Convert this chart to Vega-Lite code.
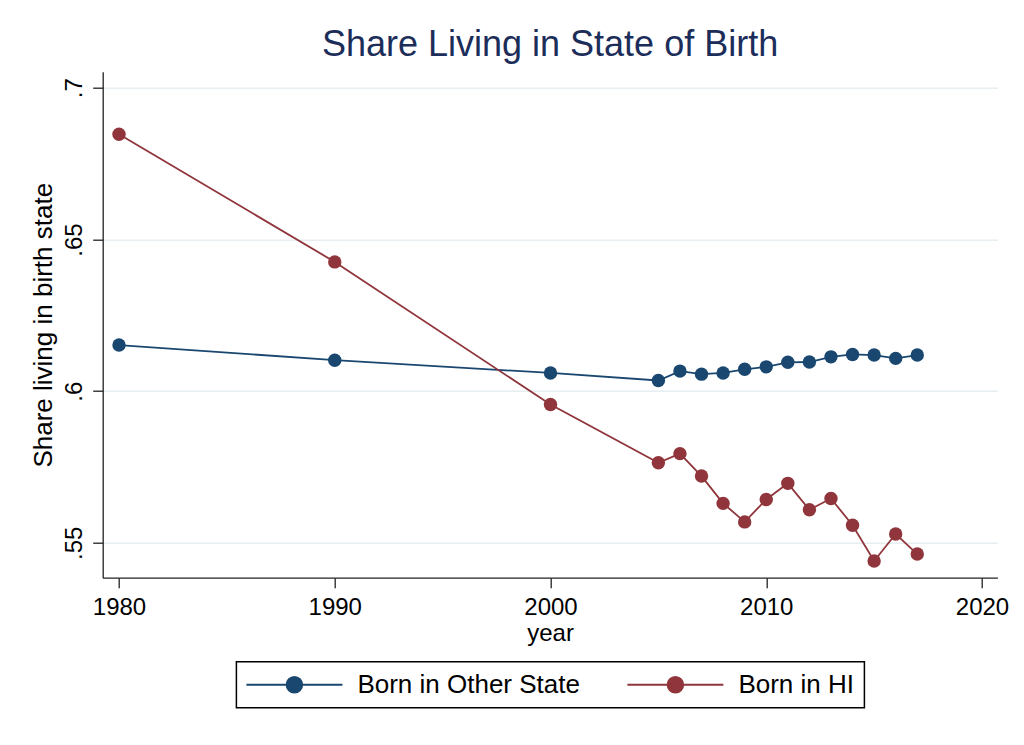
{
  "$schema": "https://vega.github.io/schema/vega-lite/v6.json",
  "autosize": {"type": "none"},
  "padding": {"left": 102.7, "top": 71.7, "right": 26.6, "bottom": 167.3},
  "width": 894.7,
  "height": 506,
  "background": "white",
  "config": {
    "font": "Liberation Sans",
    "view": {"stroke": null},
    "axis": {"labelFont": "Liberation Sans", "titleFont": "Liberation Sans", "labelColor": "black", "titleColor": "black", "titleFontWeight": "normal"}
  },
  "title": {"text": "Share Living in State of Birth", "font": "Liberation Sans", "fontSize": 36, "fontWeight": "normal", "color": "#1c2d5a", "anchor": "middle", "frame": "group", "baseline": "alphabetic", "offset": -20},
  "data": {"values": [
    {"year": 1980, "share": 0.6152, "group": "Born in Other State"},
    {"year": 1990, "share": 0.6102, "group": "Born in Other State"},
    {"year": 2000, "share": 0.6060, "group": "Born in Other State"},
    {"year": 2005, "share": 0.6035, "group": "Born in Other State"},
    {"year": 2006, "share": 0.6066, "group": "Born in Other State"},
    {"year": 2007, "share": 0.6056, "group": "Born in Other State"},
    {"year": 2008, "share": 0.6060, "group": "Born in Other State"},
    {"year": 2009, "share": 0.6072, "group": "Born in Other State"},
    {"year": 2010, "share": 0.6080, "group": "Born in Other State"},
    {"year": 2011, "share": 0.6095, "group": "Born in Other State"},
    {"year": 2012, "share": 0.6096, "group": "Born in Other State"},
    {"year": 2013, "share": 0.6113, "group": "Born in Other State"},
    {"year": 2014, "share": 0.6121, "group": "Born in Other State"},
    {"year": 2015, "share": 0.6119, "group": "Born in Other State"},
    {"year": 2016, "share": 0.6108, "group": "Born in Other State"},
    {"year": 2017, "share": 0.6119, "group": "Born in Other State"},
    {"year": 1980, "share": 0.6847, "group": "Born in HI"},
    {"year": 1990, "share": 0.6426, "group": "Born in HI"},
    {"year": 2000, "share": 0.5956, "group": "Born in HI"},
    {"year": 2005, "share": 0.5764, "group": "Born in HI"},
    {"year": 2006, "share": 0.5794, "group": "Born in HI"},
    {"year": 2007, "share": 0.5720, "group": "Born in HI"},
    {"year": 2008, "share": 0.5630, "group": "Born in HI"},
    {"year": 2009, "share": 0.5569, "group": "Born in HI"},
    {"year": 2010, "share": 0.5643, "group": "Born in HI"},
    {"year": 2011, "share": 0.5696, "group": "Born in HI"},
    {"year": 2012, "share": 0.5609, "group": "Born in HI"},
    {"year": 2013, "share": 0.5646, "group": "Born in HI"},
    {"year": 2014, "share": 0.5558, "group": "Born in HI"},
    {"year": 2015, "share": 0.5440, "group": "Born in HI"},
    {"year": 2016, "share": 0.5529, "group": "Born in HI"},
    {"year": 2017, "share": 0.5463, "group": "Born in HI"}
  ]},
  "encoding": {
    "x": {"field": "year", "type": "quantitative",
      "scale": {"domain": [1979.244, 2020.714], "nice": false, "zero": false},
      "axis": {"title": "year", "values": [1980, 1990, 2000, 2010, 2020], "format": "d", "grid": false,
        "labelFontSize": 24, "titleFontSize": 24, "tickSize": 10, "tickColor": "#222", "domainColor": "#222", "domainWidth": 1.3, "tickWidth": 1.3,
        "labelPadding": 8, "titlePadding": 2, "labelFlush": false}},
    "y": {"field": "share", "type": "quantitative",
      "scale": {"domain": [0.5385, 0.7053], "nice": false, "zero": false},
      "axis": {"title": "Share living in birth state", "values": [0.55, 0.6, 0.65, 0.7],
        "labelExpr": "replace(toString(datum.value), '0.', '.')",
        "grid": true, "gridColor": "#e6eef1", "gridWidth": 1.5,
        "labelAngle": -90, "labelAlign": "center", "labelBaseline": "alphabetic",
        "labelFontSize": 24, "titleFontSize": 26, "tickSize": 10, "tickColor": "#222", "domainColor": "#222", "domainWidth": 1.3, "tickWidth": 1.3,
        "labelPadding": 11, "titlePadding": 6, "labelFlush": false}},
    "color": {"field": "group", "type": "nominal",
      "scale": {"domain": ["Born in Other State", "Born in HI"], "range": ["#1a476f", "#90353b"]},
      "legend": {"title": null, "orient": "none", "legendX": 133.7, "legendY": 590, "direction": "horizontal",
        "strokeColor": "black", "padding": 10, "fillColor": "white",
        "symbolType": "M-4,0H4M0.65,0A0.65,0.65,0,1,1,-0.65,0A0.65,0.65,0,1,1,0.65,0Z",
        "symbolSize": 576, "symbolStrokeWidth": 2, "symbolOffset": 35, "labelOffset": 50, "columnPadding": 43,
        "labelFont": "Liberation Sans", "labelFontSize": 26, "labelColor": "black", "labelLimit": 400,
        "encode": {
          "legend": {"update": {"strokeWidth": {"value": 1.5}}},
          "symbols": {"update": {"stroke": {"scale": "color", "field": "value"}, "fill": {"scale": "color", "field": "value"}, "strokeWidth": {"value": 2}, "opacity": {"value": 1}}}}}}
  },
  "layer": [
    {"mark": {"type": "line", "strokeWidth": 1.8}},
    {"mark": {"type": "point", "filled": true, "size": 180, "opacity": 1, "shape": "circle"}}
  ]
}
